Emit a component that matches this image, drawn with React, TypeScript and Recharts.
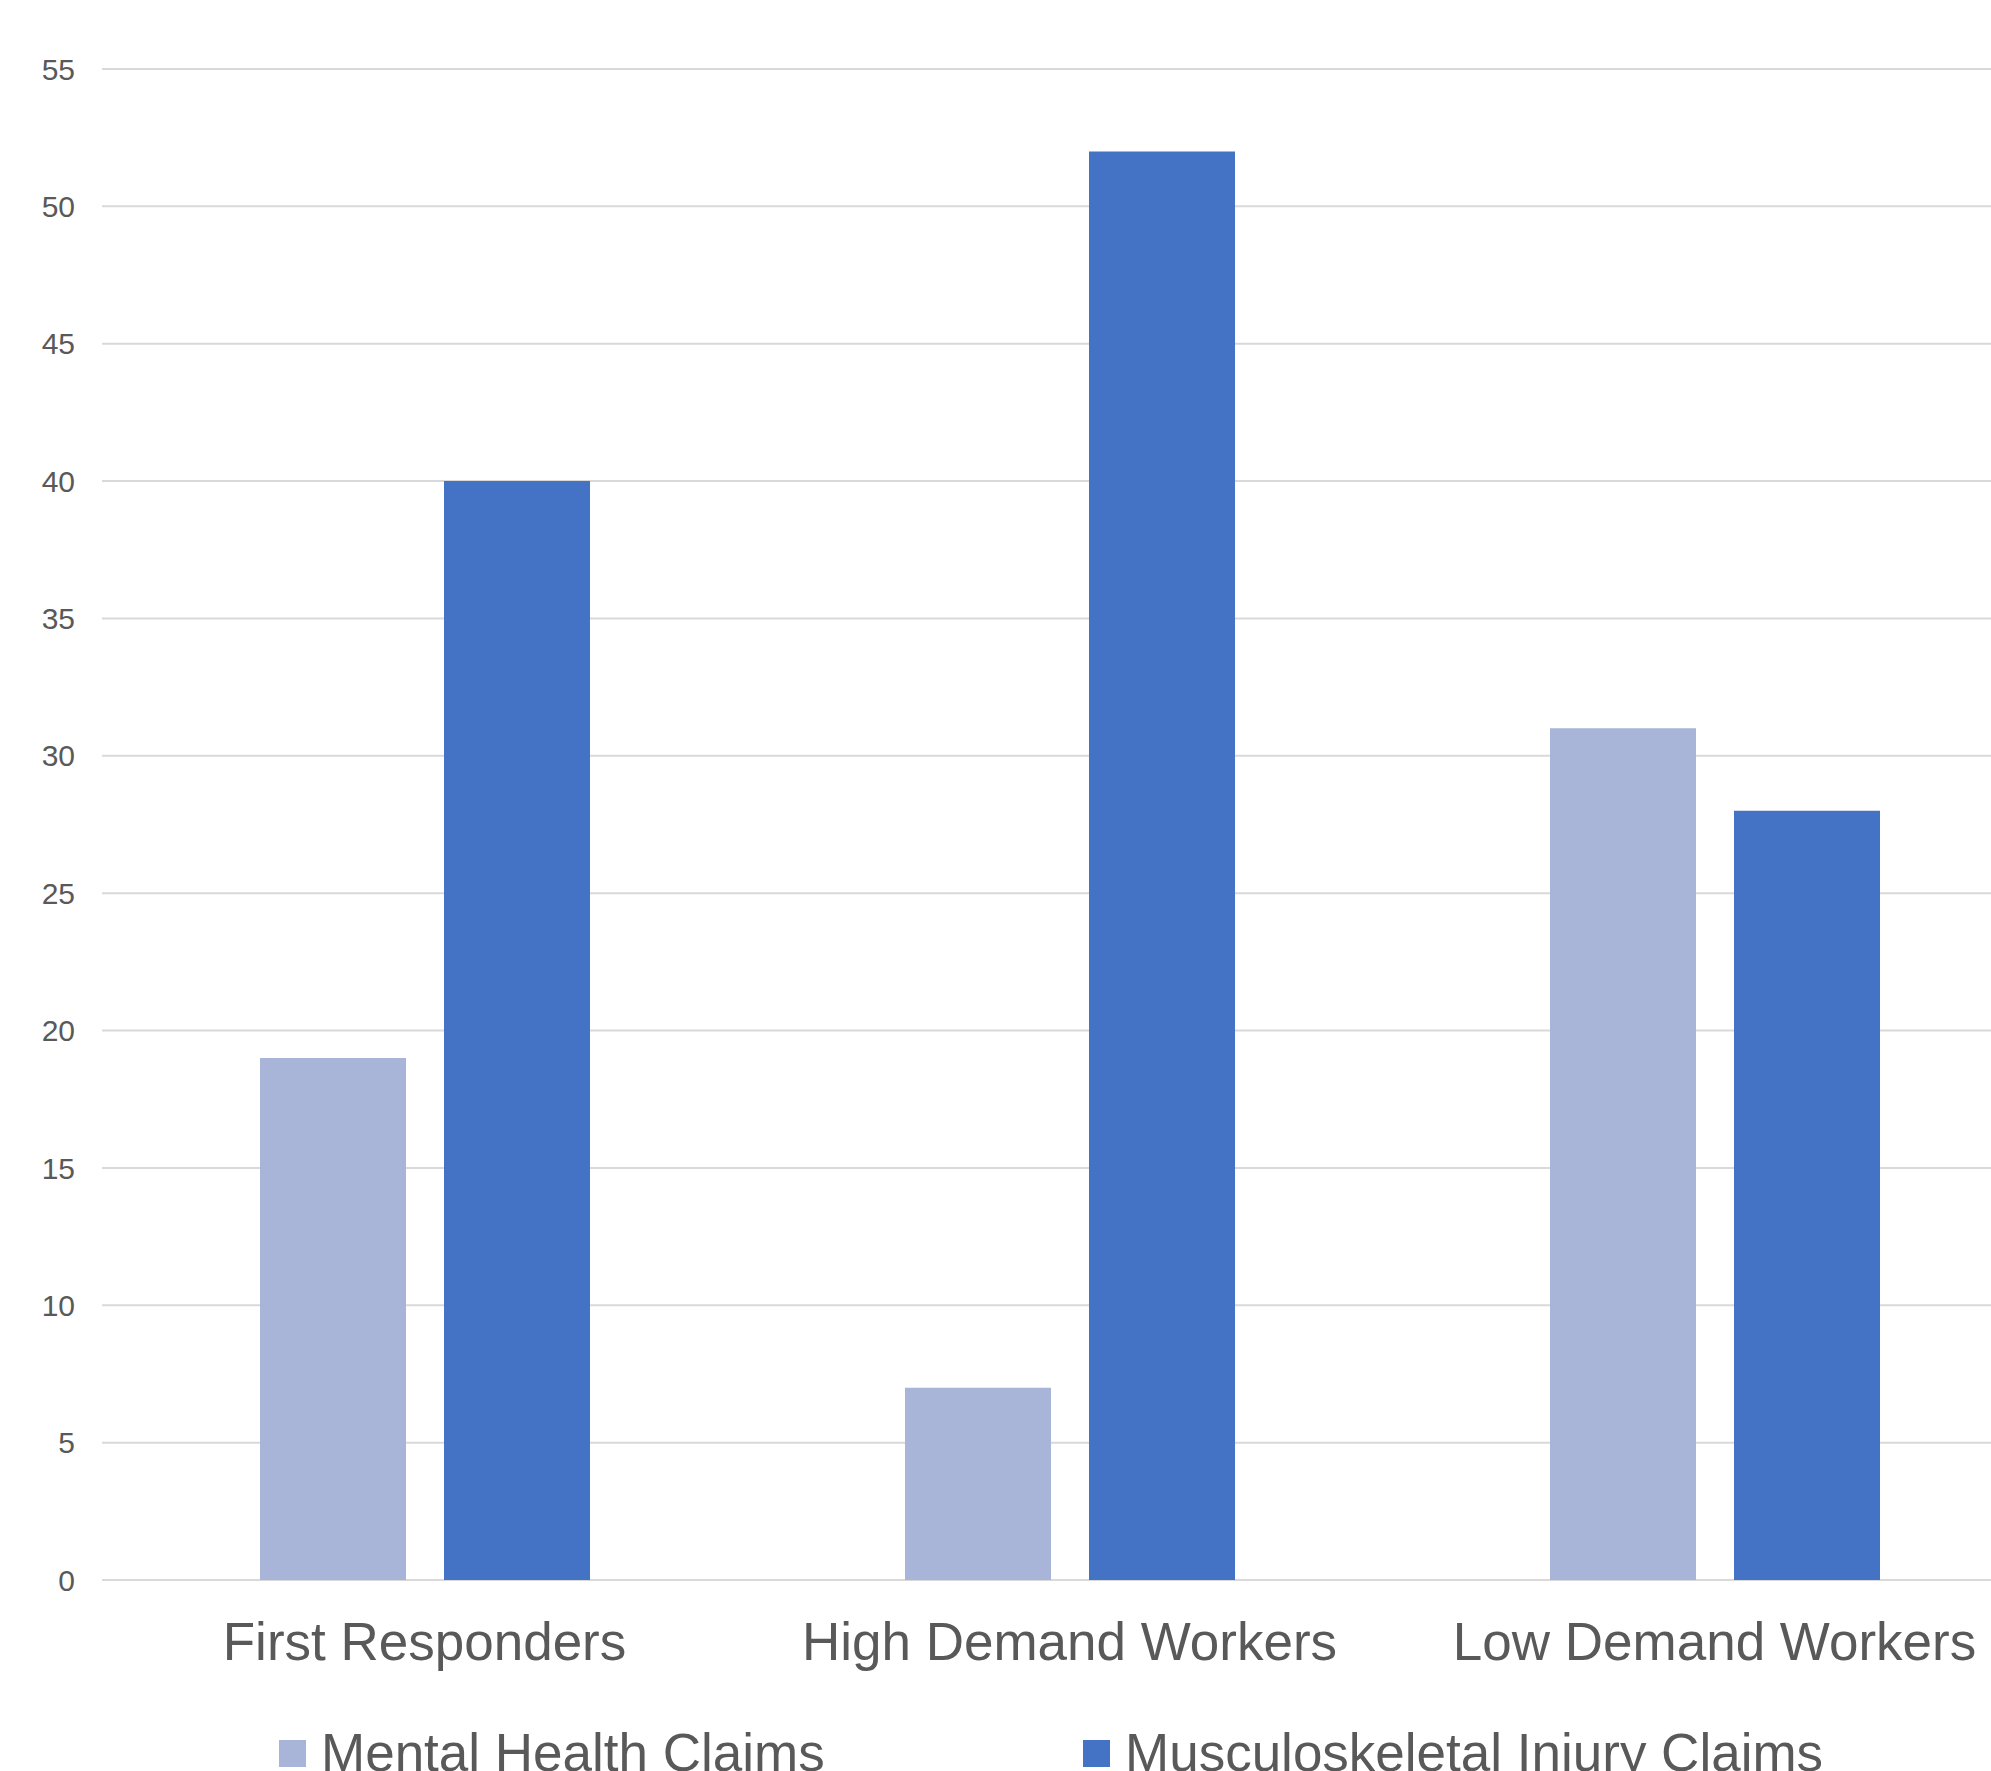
import React from "react";
import { BarChart, Bar, XAxis, YAxis, CartesianGrid, Legend } from "recharts";

const categories = ["First Responders", "High Demand Workers", "Low Demand Workers"];
const mentalHealth = [19, 7, 31];
const musculoskeletal = [40, 52, 28];
const yTicks = [0, 5, 10, 15, 20, 25, 30, 35, 40, 45, 50, 55];

const seriesNames = ["Mental Health Claims", "Musculoskeletal Injury Claims"];
const colors = ["#A8B5D9", "#4472C4"];

const data = categories.map((c, i) => ({
  name: c,
  mental: mentalHealth[i],
  msk: musculoskeletal[i],
}));

const FONT = "'Liberation Sans', Arial, sans-serif";
const TEXT = "#595959";

const CategoryTick = (props: any) => {
  const { x, y, payload } = props;
  return (
    <text x={x} y={y + 80} textAnchor="middle" fill={TEXT} fontSize={53} fontFamily={FONT}>
      {payload.value}
    </text>
  );
};

const LegendContent = (props: any) => {
  const payload = props.payload || [];
  return (
    <div style={{ position: "relative", height: 100, width: "100%", fontFamily: FONT }}>
      {payload.map((p: any, i: number) => {
        const left = i === 0 ? 279 : 1083;
        return (
          <React.Fragment key={i}>
            <div
              style={{
                position: "absolute",
                left,
                top: 20,
                width: 27,
                height: 27,
                background: p.color,
              }}
            />
            <span
              style={{
                position: "absolute",
                left: left + 42,
                top: 6,
                fontSize: 53,
                lineHeight: "53px",
                color: TEXT,
                whiteSpace: "nowrap",
              }}
            >
              {p.value}
            </span>
          </React.Fragment>
        );
      })}
    </div>
  );
};

export default function App() {
  return (
    <div
      style={{
        position: "fixed",
        left: 0,
        top: 0,
        width: 1991,
        height: 1771,
        overflow: "hidden",
        background: "#ffffff",
      }}
    >
      <BarChart
        width={2037}
        height={1820}
        data={data}
        margin={{ top: 69, right: 0, bottom: 0, left: 0 }}
        barGap={38}
      >
        <CartesianGrid horizontal vertical={false} stroke="#D9D9D9" strokeWidth={2} />
        <XAxis
          dataKey="name"
          axisLine={false}
          tickLine={false}
          tickSize={0}
          tickMargin={0}
          height={140}
          interval={0}
          tick={<CategoryTick />}
        />
        <YAxis
          width={102}
          domain={[0, 55]}
          ticks={yTicks}
          axisLine={false}
          tickLine={false}
          tickSize={0}
          tickMargin={27}
          tick={{ fill: TEXT, fontSize: 30, fontFamily: FONT }}
        />
        <Legend
          verticalAlign="bottom"
          height={100}
          wrapperStyle={{ left: 0, width: 2037 }}
          content={<LegendContent />}
        />
        <Bar dataKey="mental" name={seriesNames[0]} fill={colors[0]} barSize={146} isAnimationActive={false} />
        <Bar dataKey="msk" name={seriesNames[1]} fill={colors[1]} barSize={146} isAnimationActive={false} />
      </BarChart>
    </div>
  );
}
